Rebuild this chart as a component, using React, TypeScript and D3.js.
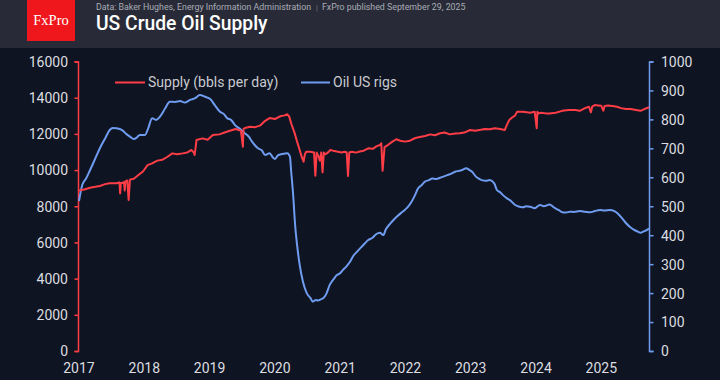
import React from "react";
import * as d3 from "d3";

// ---- Data (decimal years) ----
const supplyDates = [
  2017.0, 2017.08, 2017.17, 2017.25, 2017.32, 2017.4, 2017.47, 2017.58, 2017.62, 2017.63, 2017.64,
  2017.69, 2017.7, 2017.71, 2017.74, 2017.76, 2017.78, 2017.84, 2017.92, 2017.98, 2018.05, 2018.12,
  2018.2, 2018.28, 2018.35, 2018.43, 2018.5, 2018.59, 2018.66, 2018.72, 2018.76, 2018.77, 2018.78,
  2018.8, 2018.89, 2018.97, 2019.05, 2019.15, 2019.23, 2019.31, 2019.4, 2019.48, 2019.51, 2019.52,
  2019.54, 2019.62, 2019.7, 2019.78, 2019.85, 2019.92, 2020.0, 2020.08, 2020.15, 2020.19, 2020.22,
  2020.25, 2020.3, 2020.34, 2020.38, 2020.41, 2020.44, 2020.46, 2020.48, 2020.54, 2020.6, 2020.62,
  2020.64, 2020.67, 2020.69, 2020.71, 2020.73, 2020.75, 2020.77, 2020.8, 2020.85, 2020.89, 2020.95,
  2021.02, 2021.07, 2021.1, 2021.12, 2021.14, 2021.18, 2021.24, 2021.3, 2021.36, 2021.43, 2021.5,
  2021.56, 2021.61, 2021.63, 2021.65, 2021.68, 2021.73, 2021.8, 2021.86, 2021.92, 2021.99, 2022.07,
  2022.15, 2022.22, 2022.3, 2022.38, 2022.45, 2022.53, 2022.6, 2022.68, 2022.76, 2022.83, 2022.9,
  2022.99, 2023.07, 2023.15, 2023.22, 2023.29, 2023.37, 2023.45, 2023.52, 2023.55, 2023.59, 2023.63,
  2023.68, 2023.71, 2023.8, 2023.91, 2023.98, 2024.01, 2024.02, 2024.04, 2024.08, 2024.15, 2024.21,
  2024.3, 2024.4, 2024.5, 2024.6, 2024.67, 2024.75, 2024.81, 2024.84, 2024.86, 2024.9, 2024.95,
  2025.0, 2025.03, 2025.05, 2025.1, 2025.17, 2025.24, 2025.3, 2025.38, 2025.45, 2025.53, 2025.6,
  2025.66, 2025.73,
];
const supplyValues = [
  8900, 8950, 9050, 9100, 9150, 9250, 9300, 9300, 9350, 8740, 9300,
  9350, 8900, 9400, 9450, 8370, 9500, 9550, 9780, 9950, 10300, 10400,
  10550, 10600, 10750, 10950, 10900, 10950, 11000, 11140, 11000, 10860, 11100,
  11690, 11780, 11700, 11960, 12000, 12100, 12200, 12300, 12200, 11320, 12300,
  12350, 12420, 12400, 12500, 12750, 12900, 12850, 13000, 13050, 13110, 12980,
  12600, 12100, 11600, 11140, 10770, 10490, 10900, 11040, 11040, 11000, 9720,
  11000, 10770, 10550, 11000, 9900, 11000, 10900, 10960, 11140, 11100, 11050,
  11000, 11040, 11000, 9700, 11000, 11040, 10990, 11050, 11100, 11230, 11200,
  11350, 11410, 11510, 9990, 11300, 11410, 11600, 11730, 11650, 11600, 11650,
  11800, 11850, 11910, 12000, 11950, 12060, 12100, 12000, 12050, 12060, 12100,
  12240, 12200, 12250, 12300, 12280, 12340, 12300, 12240, 12500, 12800, 12920,
  13050, 13250, 13250, 13200, 13250, 12340, 13250, 13160, 13200, 13160, 13160,
  13200, 13300, 13350, 13350, 13300, 13450, 13530, 13220, 13530, 13620, 13600,
  13580, 13310, 13570, 13600, 13570, 13530, 13450, 13400, 13400, 13350, 13300,
  13400, 13500,
];

const rigDates = [
  2017.0, 2017.05, 2017.11, 2017.17, 2017.25, 2017.32, 2017.4, 2017.47, 2017.52, 2017.57, 2017.66,
  2017.72, 2017.78, 2017.84, 2017.89, 2017.93, 2018.01, 2018.06, 2018.12, 2018.18, 2018.24, 2018.32,
  2018.39, 2018.47, 2018.55, 2018.62, 2018.7, 2018.78, 2018.85, 2018.93, 2019.01, 2019.08, 2019.16,
  2019.22, 2019.27, 2019.33, 2019.39, 2019.46, 2019.54, 2019.6, 2019.65, 2019.74, 2019.8, 2019.85,
  2019.92, 2019.97, 2020.0, 2020.05, 2020.11, 2020.19, 2020.23, 2020.25, 2020.28, 2020.31, 2020.34,
  2020.38, 2020.43, 2020.49, 2020.55, 2020.58, 2020.63, 2020.66, 2020.7, 2020.74, 2020.79, 2020.84,
  2020.9, 2020.95, 2021.0, 2021.04, 2021.1, 2021.15, 2021.2, 2021.26, 2021.33, 2021.38, 2021.43,
  2021.49, 2021.55, 2021.61, 2021.66, 2021.7, 2021.76, 2021.82, 2021.87, 2021.93, 2021.99, 2022.05,
  2022.1, 2022.15, 2022.19, 2022.25, 2022.3, 2022.36, 2022.41, 2022.47, 2022.53, 2022.59, 2022.65,
  2022.71, 2022.76, 2022.82, 2022.87, 2022.93, 2022.98, 2023.02, 2023.08, 2023.13, 2023.17, 2023.23,
  2023.29, 2023.36, 2023.4, 2023.45, 2023.49, 2023.55, 2023.6, 2023.68, 2023.75, 2023.8, 2023.85,
  2023.91, 2023.98, 2024.06, 2024.12, 2024.21, 2024.26, 2024.29, 2024.35, 2024.4, 2024.46, 2024.52,
  2024.58, 2024.67, 2024.75, 2024.83, 2024.9, 2024.98, 2025.05, 2025.13, 2025.2, 2025.25, 2025.32,
  2025.38, 2025.43, 2025.47, 2025.52, 2025.56, 2025.6, 2025.64, 2025.7, 2025.73,
];
const rigValues = [
  520, 575, 598, 627, 667, 702, 736, 765, 772, 771, 765,
  752, 742, 734, 740, 748, 748, 771, 806, 800, 811, 840,
  863, 862, 865, 860, 869, 875, 886, 880, 872, 851, 828,
  820, 806, 800, 782, 770, 754, 742, 725, 702, 695, 679,
  685, 670, 665, 678, 682, 685, 673, 621, 541, 437, 368,
  299, 241, 201, 183, 172, 178, 176, 180, 184, 200, 230,
  250, 264, 270, 281, 295, 310, 330, 345, 362, 374, 385,
  392, 405, 410, 402, 422, 440, 455, 466, 478, 489, 503,
  520, 542, 562, 575, 587, 592, 598, 596, 600, 605, 610,
  615, 621, 624, 627, 633, 627, 621, 604, 596, 592, 590,
  592, 581, 558, 550, 541, 530, 523, 506, 500, 498, 502,
  500, 495, 506, 502, 508, 500, 495, 488, 481, 480, 483,
  482, 485, 483, 481, 485, 489, 487, 489, 485, 477, 460,
  443, 432, 425, 418, 414, 410, 414, 420, 425,
];

const leftTicks = [0, 2000, 4000, 6000, 8000, 10000, 12000, 14000, 16000];
const rightTicks = [0, 100, 200, 300, 400, 500, 600, 700, 800, 900, 1000];
const yearTicks = [2017, 2018, 2019, 2020, 2021, 2022, 2023, 2024, 2025];

const seriesNames = ["Supply (bbls per day)", "Oil US rigs"];
const sourceText = "Data: Baker Hughes, Energy Information Administration";
const publishedText = "FxPro published September 29, 2025";
const titleText = "US Crude Oil Supply";

const RED = "#ff3d47";
const BLUE = "#6f9cf0";
const FONT = "Roboto, 'Noto Sans', sans-serif";

export default function App() {
  const W = 720;
  const H = 380;
  const x = d3.scaleLinear().domain([2017, 2025.73]).range([79, 649]);
  const yL = d3.scaleLinear().domain([0, 16000]).range([351.5, 62]);
  const yR = d3.scaleLinear().domain([0, 1000]).range([351.5, 62]);

  const supply = supplyDates.map((d, i) => [d, supplyValues[i]] as [number, number]);
  const rigs = rigDates.map((d, i) => [d, rigValues[i]] as [number, number]);

  const lineL = d3.line<[number, number]>().x((d) => x(d[0])).y((d) => yL(d[1]));
  const lineR = d3
    .line<[number, number]>()
    .x((d) => x(d[0]))
    .y((d) => yR(d[1]))
    .curve(d3.curveMonotoneX);

  const axL = 78.5;
  const axR = 649.5;

  return (
    <svg
      width={W}
      height={H}
      style={{ position: "fixed", left: 0, top: 0, display: "block" }}
      fontFamily={FONT}
    >
      <rect x={0} y={0} width={W} height={H} fill="#0e1421" />
      <rect x={0} y={0} width={W} height={48} fill="#282b37" />
      <rect x={27} y={0} width={48} height={41} fill="#f0171c" />
      <text x={51} y={25} textAnchor="middle" fill="#fff" fontFamily="'Liberation Serif', 'DejaVu Serif', serif" fontSize={14.5}>
        FxPro
      </text>
      <text x={96} y={10} fill="#a9acb6" fontSize={8.8}>
        {sourceText}
        <tspan dx={5} fill="#777a84" fontSize={7.5}>|</tspan>
        <tspan dx={4}>{publishedText}</tspan>
      </text>
      <text x={96} y={30} fill="#ffffff" fontSize={19.3} fontWeight={500}>
        {titleText}
      </text>

      {/* left axis */}
      <path d={`M${axL - 4},${yL(16000)}H${axL}V${yL(0)}H${axL - 4}`} fill="none" stroke={RED} strokeWidth={1.5} />
      {leftTicks.map((t) => (
        <g key={"l" + t}>
          <line x1={axL - 4} x2={axL} y1={yL(t)} y2={yL(t)} stroke={RED} strokeWidth={1.5} />
          <text x={68} y={yL(t)} dy="0.35em" textAnchor="end" fill="#dcdde0" fontSize={14}>
            {t}
          </text>
        </g>
      ))}

      {/* right axis */}
      <path d={`M${axR + 4},${yR(1000)}H${axR}V${yR(0)}H${axR + 4}`} fill="none" stroke={BLUE} strokeWidth={1.5} />
      {rightTicks.map((t) => (
        <g key={"r" + t}>
          <line x1={axR} x2={axR + 4} y1={yR(t)} y2={yR(t)} stroke={BLUE} strokeWidth={1.5} />
          <text x={661} y={yR(t)} dy="0.35em" textAnchor="start" fill="#dcdde0" fontSize={14}>
            {t}
          </text>
        </g>
      ))}

      {/* x axis labels */}
      {yearTicks.map((t) => (
        <text key={"x" + t} x={x(t)} y={373} textAnchor="middle" fill="#dcdde0" fontSize={14}>
          {t}
        </text>
      ))}

      {/* series */}
      <path d={lineR(rigs) || ""} fill="none" stroke={BLUE} strokeWidth={2} strokeLinejoin="round" />
      <path d={lineL(supply) || ""} fill="none" stroke={RED} strokeWidth={2} strokeLinejoin="round" />

      {/* legend */}
      <line x1={115} x2={145} y1={82.5} y2={82.5} stroke={RED} strokeWidth={2} />
      <text x={148} y={82.5} dy="0.35em" fill="#c9cacf" fontSize={14}>
        {seriesNames[0]}
      </text>
      <line x1={301} x2={330} y1={82.5} y2={82.5} stroke={BLUE} strokeWidth={2} />
      <text x={333} y={82.5} dy="0.35em" fill="#c9cacf" fontSize={14}>
        {seriesNames[1]}
      </text>
    </svg>
  );
}
